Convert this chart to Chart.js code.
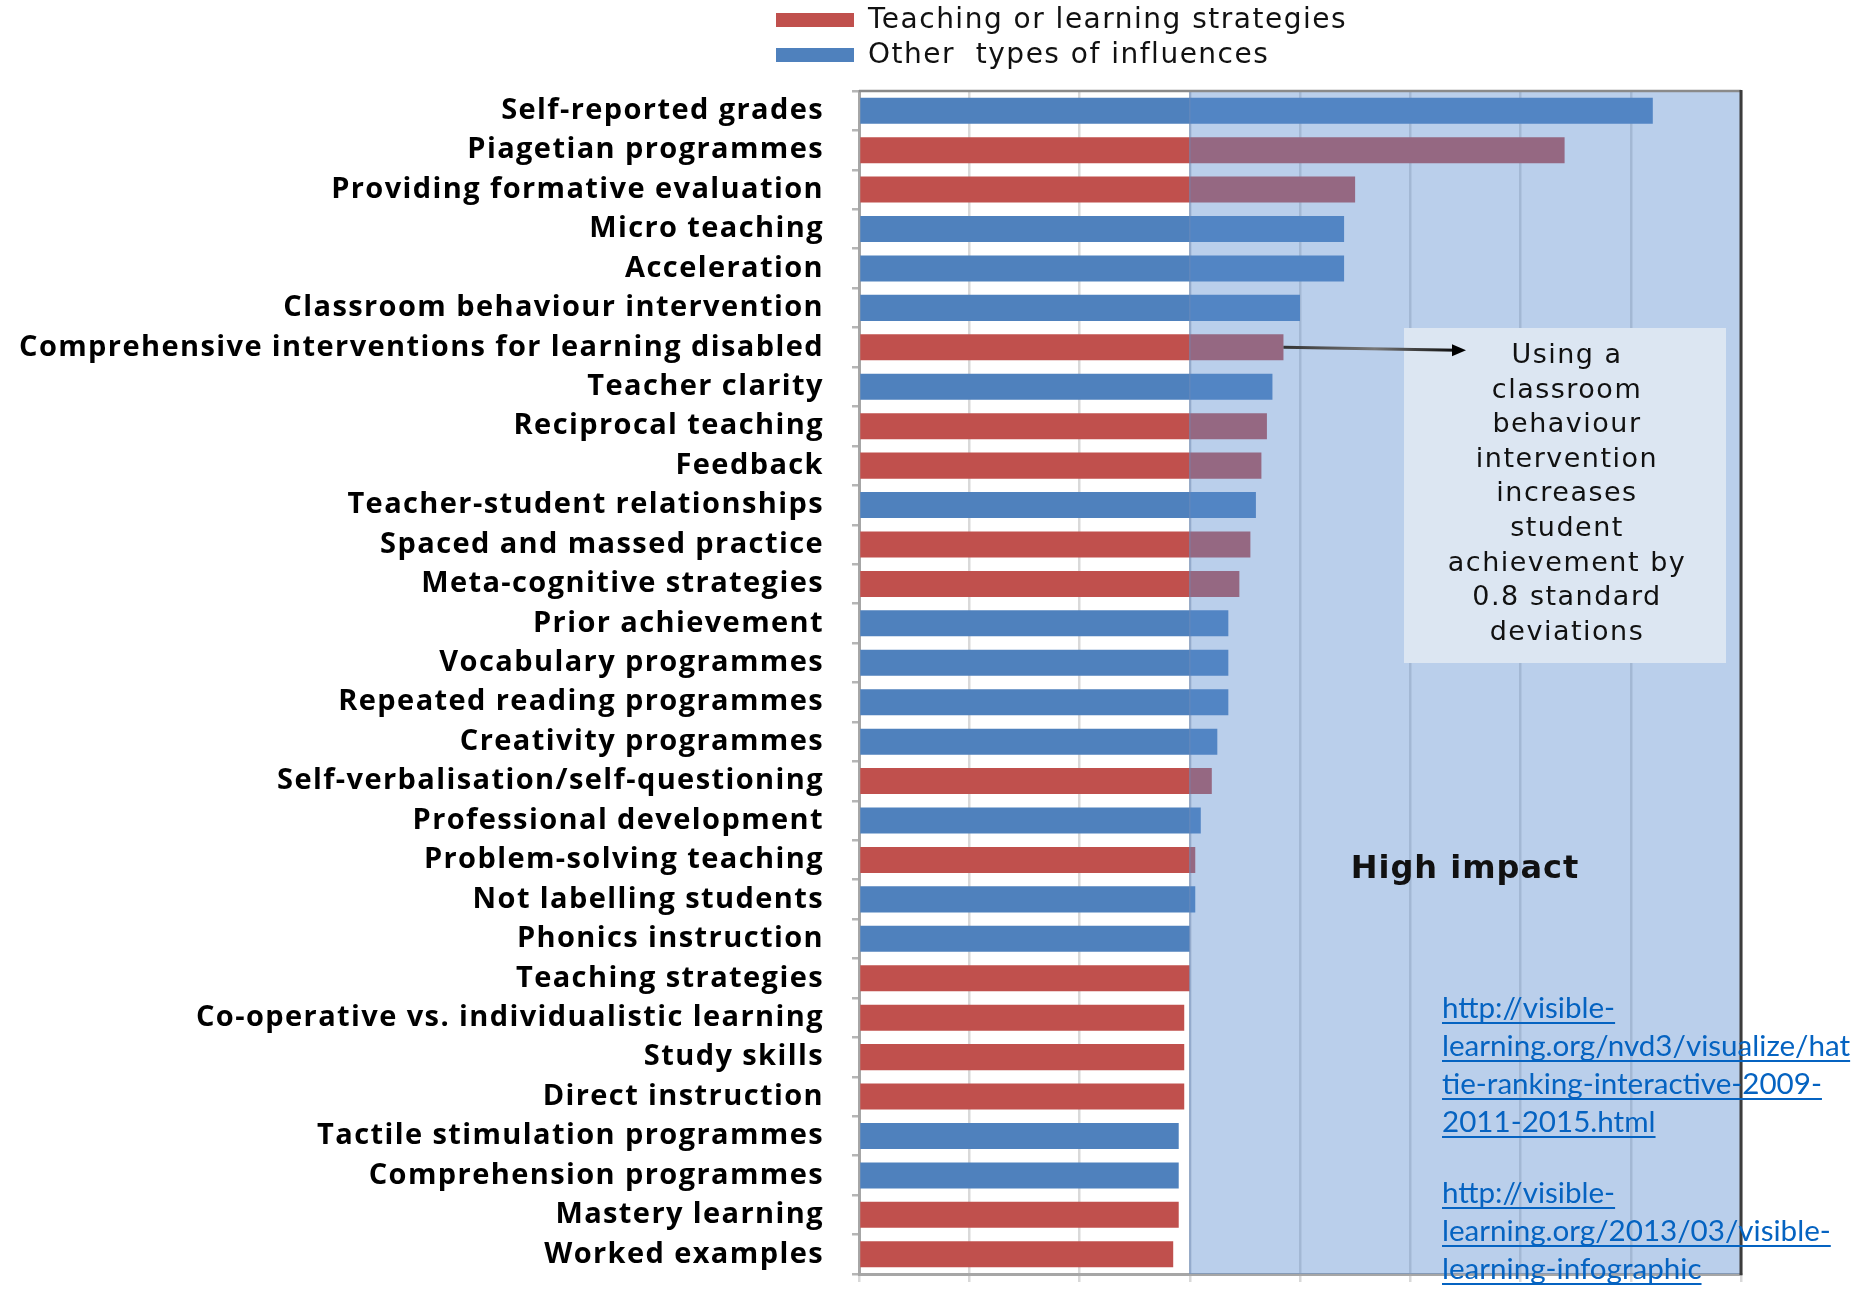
<!DOCTYPE html>
<html>
<head>
<meta charset="utf-8">
<script src="https://cdn.jsdelivr.net/npm/chart.js@4.4.1/dist/chart.umd.min.js"></script>
<style>
  html, body { margin: 0; padding: 0; background: #fff; }
  #wrap { width: 1870px; height: 1289px; position: relative; }
</style>
</head>
<body>
<div id="wrap"><canvas id="rankChart" width="1870" height="1289"></canvas></div>
<script>
// influences, ranked by effect size (d)
const categories = [
  "Self-reported grades",
  "Piagetian programmes",
  "Providing formative evaluation",
  "Micro teaching",
  "Acceleration",
  "Classroom behaviour intervention",
  "Comprehensive interventions for learning disabled",
  "Teacher clarity",
  "Reciprocal teaching",
  "Feedback",
  "Teacher-student relationships",
  "Spaced and massed practice",
  "Meta-cognitive strategies",
  "Prior achievement",
  "Vocabulary programmes",
  "Repeated reading programmes",
  "Creativity programmes",
  "Self-verbalisation/self-questioning",
  "Professional development",
  "Problem-solving teaching",
  "Not labelling students",
  "Phonics instruction",
  "Teaching strategies",
  "Co-operative vs. individualistic learning",
  "Study skills",
  "Direct instruction",
  "Tactile stimulation programmes",
  "Comprehension programmes",
  "Mastery learning",
  "Worked examples"
];
const effectSizes = [
  1.44, 1.28, 0.90, 0.88, 0.88, 0.80, 0.77, 0.75, 0.74, 0.73,
  0.72, 0.71, 0.69, 0.67, 0.67, 0.67, 0.65, 0.64, 0.62, 0.61,
  0.61, 0.60, 0.60, 0.59, 0.59, 0.59, 0.58, 0.58, 0.58, 0.57
];
// T = teaching or learning strategy, O = other influence
const influenceGroup = [
  "O", "T", "T", "O", "O", "O", "T", "O", "T", "T",
  "O", "T", "T", "O", "O", "O", "O", "T", "O", "T",
  "O", "O", "T", "T", "T", "T", "O", "O", "T", "T"
];
const seriesNames = ["Teaching or learning strategies", "Other  types of influences"];
const xMin = 0, xMax = 1.6, xStep = 0.2;
const highImpactFrom = 0.6;

const noteLines = ["Using a", "classroom", "behaviour", "intervention", "increases",
  "student", "achievement by", "0.8 standard", "deviations"];
const noteRow = 6;
const linkLines = ["http://visible-", "learning.org/nvd3/visualize/hat",
  "tie-ranking-interactive-2009-", "2011-2015.html", "",
  "http://visible-", "learning.org/2013/03/visible-", "learning-infographic"];

const RED = "#c0504d";
const BLUE = "#4f81bd";

const teachingVals = effectSizes.map((v, i) => influenceGroup[i] === "T" ? v : null);
const otherVals = effectSizes.map((v, i) => influenceGroup[i] === "O" ? v : null);

// wider tracking for the category labels
const spacingPlugin = {
  id: "labelSpacing",
  beforeDraw(chart) {
    chart.ctx.letterSpacing = "1.4px";
  }
};

// tinted "high impact" zone over the bars, plot frame, note box and links
const overlayPlugin = {
  id: "overlay",
  afterDatasetsDraw(chart) {
    const ctx = chart.ctx;
    const area = chart.chartArea;
    const xs = chart.scales.x;
    const ys = chart.scales.y;
    const x0 = xs.getPixelForValue(highImpactFrom);
    const x1 = xs.getPixelForValue(xMax);

    ctx.save();
    ctx.fillStyle = "rgba(88,139,207,0.41)";
    ctx.fillRect(x0, area.top, x1 - x0, area.bottom - area.top);
    ctx.strokeStyle = "rgba(110,140,185,0.55)";
    ctx.lineWidth = 1.5;
    ctx.beginPath();
    ctx.moveTo(x0, area.top);
    ctx.lineTo(x0, area.bottom);
    ctx.stroke();

    // frame: top and right edges
    ctx.strokeStyle = "#8a8a8a";
    ctx.lineWidth = 2.5;
    ctx.beginPath();
    ctx.moveTo(area.left, area.top);
    ctx.lineTo(area.right, area.top);
    ctx.stroke();
    ctx.strokeStyle = "#3c3c3c";
    ctx.lineWidth = 3;
    ctx.beginPath();
    ctx.moveTo(area.right, area.top - 1);
    ctx.lineTo(area.right, area.bottom + 1);
    ctx.stroke();

    // note box
    const bx = 1404, by = 328, bw = 322, bh = 335;
    ctx.fillStyle = "#dce6f2";
    ctx.fillRect(bx, by, bw, bh);
    ctx.fillStyle = "#111";
    ctx.font = "27px 'DejaVu Sans'";
    ctx.letterSpacing = "1.5px";
    ctx.textAlign = "center";
    ctx.textBaseline = "middle";
    noteLines.forEach((t, i) => ctx.fillText(t, bx + bw / 2 + 2, 356 + i * 34.6));

    // arrow from the bar end to the note
    const ax = xs.getPixelForValue(effectSizes[noteRow]);
    const ay = ys.getPixelForValue(noteRow);
    const ex = 1466, ey = ay + 3;
    const grad = ctx.createLinearGradient(ax, 0, ex, 0);
    grad.addColorStop(0, "#333");
    grad.addColorStop(0.5, "#777");
    grad.addColorStop(1, "#000");
    ctx.strokeStyle = grad;
    ctx.lineWidth = 3;
    ctx.beginPath();
    ctx.moveTo(ax, ay);
    ctx.lineTo(ex - 8, ey);
    ctx.stroke();
    ctx.fillStyle = "#000";
    ctx.beginPath();
    ctx.moveTo(ex, ey);
    ctx.lineTo(ex - 14, ey - 6);
    ctx.lineTo(ex - 14, ey + 6);
    ctx.closePath();
    ctx.fill();

    // zone caption
    ctx.fillStyle = "#111";
    ctx.font = "bold 32px 'DejaVu Sans'";
    ctx.letterSpacing = "1px";
    ctx.fillText("High impact", 1465, 870);

    // source links
    ctx.font = "29.6px Lato";
    ctx.letterSpacing = "0px";
    ctx.textAlign = "left";
    ctx.textBaseline = "alphabetic";
    ctx.fillStyle = "#0563c1";
    ctx.strokeStyle = "#0563c1";
    ctx.lineWidth = 2;
    linkLines.forEach((t, i) => {
      if (!t) return;
      const ly = 1018 + i * 38 - (i > 4 ? 5 : 0);
      ctx.fillText(t, 1442, ly);
      const w = ctx.measureText(t).width;
      ctx.beginPath();
      ctx.moveTo(1442, ly + 5);
      ctx.lineTo(1442 + w, ly + 5);
      ctx.stroke();
    });
    ctx.restore();
  }
};

// two-row legend above the plot, built from the datasets
const legendPlugin = {
  id: "stackedLegend",
  afterDraw(chart) {
    const ctx = chart.ctx;
    ctx.save();
    ctx.font = "28px 'DejaVu Sans'";
    ctx.letterSpacing = "1.5px";
    ctx.textBaseline = "middle";
    ctx.textAlign = "left";
    chart.data.datasets.forEach((ds, i) => {
      const y = 20 + i * 35;
      ctx.fillStyle = ds.backgroundColor;
      ctx.fillRect(776, y - 7, 78, 14);
      ctx.fillStyle = "#111";
      ctx.fillText(ds.label, 868, y + 1);
    });
    ctx.restore();
  }
};

new Chart(document.getElementById("rankChart"), {
  type: "bar",
  data: {
    labels: categories,
    datasets: [
      { label: seriesNames[0], data: teachingVals, backgroundColor: RED },
      { label: seriesNames[1], data: otherVals, backgroundColor: BLUE }
    ]
  },
  options: {
    indexAxis: "y",
    responsive: false,
    animation: false,
    grouped: false,
    skipNull: true,
    categoryPercentage: 1,
    barPercentage: 0.66,
    layout: { padding: { top: 91, right: 129, left: 0, bottom: 0 } },
    plugins: {
      legend: { display: false },
      tooltip: { enabled: false }
    },
    scales: {
      x: {
        min: xMin,
        max: xMax,
        ticks: { display: false, stepSize: xStep },
        grid: { color: "#d9d9d9", lineWidth: 2.5, tickLength: 8, drawTicks: true },
        border: { color: "#a6a6a6", width: 3 },
        afterFit(scale) { scale.height = 15; }
      },
      y: {
        ticks: {
          color: "#000",
          padding: 28,
          font: { family: "'Open Sans'", weight: "bold", size: 29 }
        },
        grid: { offset: true, drawOnChartArea: false, tickLength: 7, color: "#b5b5b5", lineWidth: 2.5 },
        border: { color: "#a6a6a6", width: 3 },
        afterFit(scale) {
          scale.width = 859;
          scale.paddingTop = 0;
          scale.paddingBottom = 0;
        }
      }
    }
  },
  plugins: [spacingPlugin, overlayPlugin, legendPlugin]
});
</script>
</body>
</html>
